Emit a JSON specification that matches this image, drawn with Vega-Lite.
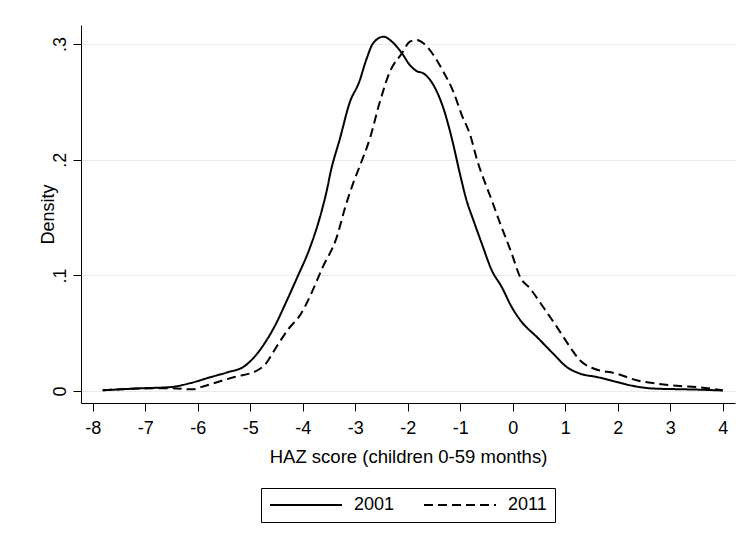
{
  "$schema": "https://vega.github.io/schema/vega-lite/v6.json",
  "width": 654,
  "height": 378,
  "autosize": "none",
  "padding": {"left": 81, "top": 25, "right": 11, "bottom": 143},
  "background": "white",
  "config": {
    "view": {"stroke": null},
    "font": "Liberation Sans",
    "axis": {
      "labelFont": "Liberation Sans",
      "titleFont": "Liberation Sans",
      "labelColor": "black",
      "titleColor": "black",
      "titleFontWeight": "normal",
      "domainColor": "black",
      "domainWidth": 1,
      "tickColor": "black",
      "tickWidth": 1
    }
  },
  "data": {
    "values": [
      {"year": "2001", "haz": -7.81, "density": 0.0007},
      {"year": "2001", "haz": -7.08, "density": 0.0024},
      {"year": "2001", "haz": -6.51, "density": 0.0035},
      {"year": "2001", "haz": -6.13, "density": 0.007},
      {"year": "2001", "haz": -5.78, "density": 0.0117},
      {"year": "2001", "haz": -5.43, "density": 0.0163},
      {"year": "2001", "haz": -5.11, "density": 0.0215},
      {"year": "2001", "haz": -4.92, "density": 0.0295},
      {"year": "2001", "haz": -4.73, "density": 0.041},
      {"year": "2001", "haz": -4.54, "density": 0.0555},
      {"year": "2001", "haz": -4.3, "density": 0.0785},
      {"year": "2001", "haz": -4.1, "density": 0.0987},
      {"year": "2001", "haz": -3.88, "density": 0.1218},
      {"year": "2001", "haz": -3.67, "density": 0.1506},
      {"year": "2001", "haz": -3.54, "density": 0.1737},
      {"year": "2001", "haz": -3.47, "density": 0.189},
      {"year": "2001", "haz": -3.29, "density": 0.2184},
      {"year": "2001", "haz": -3.1, "density": 0.25},
      {"year": "2001", "haz": -2.93, "density": 0.2665},
      {"year": "2001", "haz": -2.78, "density": 0.2876},
      {"year": "2001", "haz": -2.66, "density": 0.3006},
      {"year": "2001", "haz": -2.46, "density": 0.3063},
      {"year": "2001", "haz": -2.3, "density": 0.302},
      {"year": "2001", "haz": -2.11, "density": 0.292},
      {"year": "2001", "haz": -1.96, "density": 0.2818},
      {"year": "2001", "haz": -1.83, "density": 0.2766},
      {"year": "2001", "haz": -1.7, "density": 0.2746},
      {"year": "2001", "haz": -1.51, "density": 0.2645},
      {"year": "2001", "haz": -1.32, "density": 0.2444},
      {"year": "2001", "haz": -1.16, "density": 0.2184},
      {"year": "2001", "haz": -1.0, "density": 0.1867},
      {"year": "2001", "haz": -0.88, "density": 0.165},
      {"year": "2001", "haz": -0.75, "density": 0.1478},
      {"year": "2001", "haz": -0.59, "density": 0.1276},
      {"year": "2001", "haz": -0.4, "density": 0.1045},
      {"year": "2001", "haz": -0.21, "density": 0.09},
      {"year": "2001", "haz": -0.02, "density": 0.0727},
      {"year": "2001", "haz": 0.17, "density": 0.0598},
      {"year": "2001", "haz": 0.46, "density": 0.0468},
      {"year": "2001", "haz": 0.77, "density": 0.0324},
      {"year": "2001", "haz": 1.03, "density": 0.0208},
      {"year": "2001", "haz": 1.28, "density": 0.0151},
      {"year": "2001", "haz": 1.6, "density": 0.0122},
      {"year": "2001", "haz": 1.98, "density": 0.0079},
      {"year": "2001", "haz": 2.3, "density": 0.0044},
      {"year": "2001", "haz": 2.68, "density": 0.0022},
      {"year": "2001", "haz": 3.19, "density": 0.0016},
      {"year": "2001", "haz": 3.5, "density": 0.0013},
      {"year": "2001", "haz": 4.0, "density": 0.0005},
      {"year": "2011", "haz": -7.81, "density": 0.0007},
      {"year": "2011", "haz": -7.08, "density": 0.0022},
      {"year": "2011", "haz": -6.51, "density": 0.0025},
      {"year": "2011", "haz": -6.1, "density": 0.0015},
      {"year": "2011", "haz": -5.9, "density": 0.004},
      {"year": "2011", "haz": -5.68, "density": 0.007},
      {"year": "2011", "haz": -5.3, "density": 0.0122},
      {"year": "2011", "haz": -4.86, "density": 0.018},
      {"year": "2011", "haz": -4.7, "density": 0.0238},
      {"year": "2011", "haz": -4.54, "density": 0.0353},
      {"year": "2011", "haz": -4.29, "density": 0.0526},
      {"year": "2011", "haz": -4.03, "density": 0.067},
      {"year": "2011", "haz": -3.85, "density": 0.083},
      {"year": "2011", "haz": -3.63, "density": 0.106},
      {"year": "2011", "haz": -3.35, "density": 0.1333},
      {"year": "2011", "haz": -3.19, "density": 0.159},
      {"year": "2011", "haz": -3.04, "density": 0.1795},
      {"year": "2011", "haz": -2.9, "density": 0.196},
      {"year": "2011", "haz": -2.72, "density": 0.2184},
      {"year": "2011", "haz": -2.53, "density": 0.25},
      {"year": "2011", "haz": -2.34, "density": 0.276},
      {"year": "2011", "haz": -2.11, "density": 0.292},
      {"year": "2011", "haz": -1.96, "density": 0.302},
      {"year": "2011", "haz": -1.83, "density": 0.3035},
      {"year": "2011", "haz": -1.7, "density": 0.3006},
      {"year": "2011", "haz": -1.51, "density": 0.2905},
      {"year": "2011", "haz": -1.32, "density": 0.276},
      {"year": "2011", "haz": -1.13, "density": 0.2587},
      {"year": "2011", "haz": -0.97, "density": 0.2386},
      {"year": "2011", "haz": -0.81, "density": 0.2213},
      {"year": "2011", "haz": -0.68, "density": 0.2},
      {"year": "2011", "haz": -0.4, "density": 0.165},
      {"year": "2011", "haz": -0.24, "density": 0.145},
      {"year": "2011", "haz": -0.02, "density": 0.119},
      {"year": "2011", "haz": 0.14, "density": 0.0987},
      {"year": "2011", "haz": 0.33, "density": 0.0887},
      {"year": "2011", "haz": 0.58, "density": 0.0727},
      {"year": "2011", "haz": 0.84, "density": 0.0555},
      {"year": "2011", "haz": 1.09, "density": 0.0382},
      {"year": "2011", "haz": 1.28, "density": 0.0266},
      {"year": "2011", "haz": 1.54, "density": 0.0195},
      {"year": "2011", "haz": 1.98, "density": 0.0151},
      {"year": "2011", "haz": 2.36, "density": 0.0093},
      {"year": "2011", "haz": 2.74, "density": 0.0065},
      {"year": "2011", "haz": 3.19, "density": 0.0044},
      {"year": "2011", "haz": 3.5, "density": 0.0035},
      {"year": "2011", "haz": 4.0, "density": 0.0007}
    ]
  },
  "mark": {"type": "line", "color": "black", "strokeWidth": 2, "interpolate": "monotone"},
  "encoding": {
    "x": {
      "field": "haz",
      "type": "quantitative",
      "scale": {"domain": [-8.223, 4.234], "nice": false, "zero": false},
      "axis": {
        "title": "HAZ score (children 0-59 months)",
        "titleFontSize": 18.5,
        "titleX": 327,
        "titleY": 59,
        "titleAlign": "center",
        "titleBaseline": "alphabetic",
        "values": [-8, -7, -6, -5, -4, -3, -2, -1, 0, 1, 2, 3, 4],
        "labelExpr": "'' + datum.value",
        "labelFontSize": 18,
        "labelBaseline": "top",
        "labelPadding": 8,
        "tickSize": 8,
        "grid": false,
        "labelFlush": false,
        "labelOverlap": false
      }
    },
    "y": {
      "field": "density",
      "type": "quantitative",
      "scale": {"domain": [-0.0103, 0.3164], "nice": false, "zero": false},
      "axis": {
        "title": "Density",
        "titleFontSize": 18,
        "titleAngle": -90,
        "titleX": -28,
        "titleY": 189,
        "titleAlign": "center",
        "titleBaseline": "alphabetic",
        "values": [0, 0.1, 0.2, 0.3],
        "labelExpr": "datum.value === 0 ? '0' : '.' + round(datum.value * 10)",
        "labelFontSize": 18,
        "labelAngle": -90,
        "labelAlign": "center",
        "labelBaseline": "alphabetic",
        "labelPadding": 8,
        "tickSize": 8,
        "grid": true,
        "gridColor": "#e3ecef",
        "gridWidth": 1.2,
        "labelFlush": false,
        "labelOverlap": false
      }
    },
    "strokeDash": {
      "field": "year",
      "type": "nominal",
      "scale": {"domain": ["2001", "2011"], "range": [[1, 0], [9, 5]]},
      "legend": {
        "title": null,
        "orient": "none",
        "legendX": 180,
        "legendY": 463,
        "direction": "horizontal",
        "symbolType": "stroke",
        "symbolSize": 5184,
        "symbolStrokeWidth": 2,
        "symbolStrokeColor": "black",
        "clipHeight": 18,
        "labelFont": "Liberation Sans",
        "labelFontSize": 18,
        "labelColor": "black",
        "labelOffset": 11,
        "labelLimit": 0,
        "columnPadding": 28,
        "padding": 8,
        "strokeColor": "black",
        "fillColor": "white"
      }
    }
  }
}
